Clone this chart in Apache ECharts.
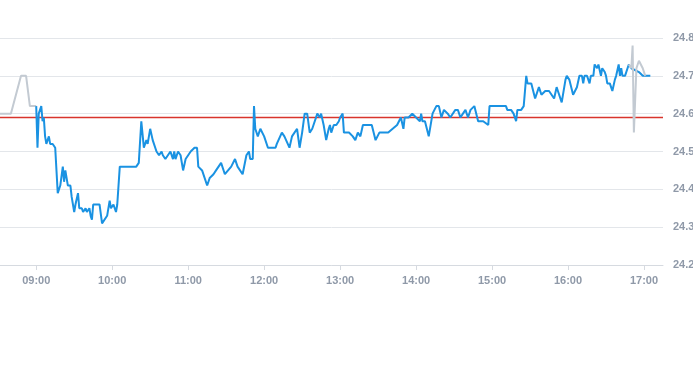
<!DOCTYPE html>
<html>
<head>
<meta charset="utf-8">
<script src="https://cdn.jsdelivr.net/npm/echarts@6/dist/echarts.min.js"></script>
<style>
html,body{margin:0;padding:0;background:#fff;}
#chart{width:693px;height:365px;}
</style>
</head>
<body>
<div id="chart"></div>
<script>
// ---- data ----
const blueTimes = ['09:00','09:01','09:02','09:03','09:04','09:05','09:06','09:07','09:08','09:10','09:11','09:13','09:15',
'09:17','09:19','09:21','09:22','09:23','09:24','09:25','09:27','09:28',
'09:30','09:31','09:33','09:34','09:36','09:37','09:39','09:40','09:42','09:43','09:44','09:45','09:50',
'09:52','09:56','09:58','09:59','10:01','10:03','10:04','10:06',
'10:19','10:21','10:23','10:25','10:27','10:28','10:30','10:32','10:35','10:37','10:39','10:40','10:42','10:44','10:46','10:48','10:49','10:50','10:52','10:54',
'10:56','10:58','11:02','11:05','11:07','11:08','11:11','11:12','11:15','11:16','11:17','11:20','11:22','11:26','11:29','11:34','11:37','11:39','11:43','11:46','11:48','11:49','11:51',
'11:52','11:53','11:54','11:55','11:57','12:00','12:03','12:09','12:10','12:14','12:16','12:20','12:22','12:26','12:28','12:30',
'12:32','12:34','12:36','12:38','12:42','12:43','12:44','12:45','12:47','12:49','12:51','12:52','12:53','12:55','12:57','12:59','13:00','13:02',
'13:03','13:07','13:10','13:12','13:14','13:16','13:18','13:25','13:28','13:31','13:38','13:45','13:48','13:50','13:51','13:54','13:57','14:00','14:03','14:04','14:05','14:07',
'14:10','14:13','14:16','14:18','14:20','14:22','14:25','14:27','14:31','14:33','14:35','14:37','14:39','14:41','14:43','14:46','14:49','14:53','14:57','14:58',
'15:11','15:12','15:13','15:15','15:17','15:19','15:20','15:23','15:25',
'15:27','15:28','15:31','15:34','15:37','15:38','15:39','15:42','15:43','15:45','15:47','15:49','15:51','15:52','15:55','15:58','15:59','16:01','16:04','16:07','16:09','16:11','16:12','16:13','16:15','16:17','16:18','16:20',
'16:21','16:23','16:24','16:26','16:27','16:29','16:30','16:31','16:33','16:34','16:35','16:37','16:38','16:39','16:40','16:41','16:42','16:43','16:44','16:45','16:47','16:48','16:50','16:56','16:59','17:01','17:05'];
const blueValues = [24.62,24.51,24.60,24.61,24.62,24.58,24.59,24.54,24.52,24.54,24.52,24.52,24.51,
24.39,24.41,24.46,24.42,24.45,24.45,24.41,24.41,24.38,
24.34,24.36,24.39,24.35,24.35,24.34,24.35,24.34,24.35,24.33,24.32,24.36,24.36,
24.31,24.33,24.37,24.35,24.36,24.34,24.36,24.46,
24.46,24.47,24.58,24.51,24.53,24.52,24.56,24.53,24.50,24.49,24.50,24.49,24.48,24.49,24.50,24.48,24.50,24.48,24.50,24.49,
24.45,24.48,24.50,24.51,24.51,24.46,24.45,24.45,24.41,24.41,24.43,24.44,24.45,24.47,24.44,24.46,24.48,24.46,24.44,24.49,24.50,24.48,24.48,
24.62,24.56,24.56,24.54,24.56,24.54,24.51,24.51,24.52,24.55,24.54,24.51,24.54,24.56,24.51,24.55,
24.60,24.60,24.55,24.56,24.60,24.60,24.59,24.60,24.57,24.53,24.56,24.57,24.55,24.57,24.57,24.58,24.59,24.60,
24.55,24.55,24.54,24.53,24.55,24.54,24.57,24.57,24.53,24.55,24.55,24.57,24.59,24.56,24.59,24.59,24.60,24.59,24.58,24.60,24.58,24.58,
24.54,24.60,24.62,24.62,24.59,24.61,24.60,24.59,24.61,24.61,24.59,24.60,24.61,24.59,24.61,24.62,24.58,24.58,24.57,24.62,
24.62,24.61,24.61,24.61,24.60,24.58,24.61,24.61,24.62,
24.70,24.68,24.68,24.64,24.67,24.67,24.65,24.66,24.66,24.66,24.65,24.64,24.67,24.66,24.63,24.69,24.70,24.69,24.65,24.67,24.70,24.70,24.68,24.70,24.70,24.68,24.70,24.70,
24.73,24.72,24.73,24.70,24.72,24.71,24.70,24.68,24.68,24.67,24.66,24.69,24.70,24.70,24.73,24.70,24.72,24.70,24.70,24.70,24.72,24.73,24.72,24.71,24.70,24.70,24.70];

const preTimes = ['08:30','08:40','08:48','08:52','08:55','09:00'];
const preValues = [24.60,24.60,24.70,24.70,24.62,24.62];

const postTimes = ['16:48','16:50','16:51','16:52','16:54','16:56','16:57','16:59','17:01'];
const postValues = [24.73,24.72,24.78,24.55,24.72,24.74,24.74,24.72,24.70];

const referencePrice = 24.59;
const xTickLabels = ['09:00','10:00','11:00','12:00','13:00','14:00','15:00','16:00','17:00'];
const yTickLabels = ['24.2','24.3','24.4','24.5','24.6','24.7','24.8'];
const axisStart = '08:31:24';
const axisEnd = '17:15';

// ---- helpers ----
function toMin(t){ const p=t.split(':').map(Number); return p[0]*60+p[1]+(p[2]||0)/60; }
function fmt(m){ const h=Math.floor(m/60), mm=Math.round(m-h*60); return String(h).padStart(2,'0')+':'+String(mm).padStart(2,'0'); }
function pairs(ts, vs){ const n=Math.min(ts.length, vs.length); const out=[]; for(let i=0;i<n;i++) out.push([toMin(ts[i]), vs[i]]); return out; }

const labelColor = '#8f99a8';
const xMin = toMin(axisStart), xMax = toMin(axisEnd);
const chart = echarts.init(document.getElementById('chart'), null, {renderer:'canvas'});
const yMin = parseFloat(yTickLabels[0]), yMax = parseFloat(yTickLabels[yTickLabels.length-1]);
chart.setOption({
  animation:false,
  backgroundColor:'#ffffff',
  grid:{left:0, right:30, top:38, bottom:100, containLabel:false, outerBoundsMode:'none'},
  xAxis:{
    type:'value',
    min:xMin, max:xMax,
    axisLine:{show:true, lineStyle:{color:'#d6dae0', width:1}},
    axisTick:{show:true, length:5, lineStyle:{color:'#d6dae0'}, customValues:xTickLabels.map(toMin)},
    axisLabel:{color:labelColor, fontSize:11, fontWeight:'bold', fontFamily:'Liberation Sans, Arial, sans-serif', margin:10,
      customValues:xTickLabels.map(toMin), formatter:v=>fmt(v)},
    splitLine:{show:false}
  },
  yAxis:{
    type:'value', position:'right',
    min:yMin, max:yMax, interval:0.1,
    axisLine:{show:false}, axisTick:{show:false},
    axisLabel:{color:labelColor, fontSize:11, fontWeight:'bold', fontFamily:'Liberation Sans, Arial, sans-serif', margin:10,
      formatter:v=>v.toFixed(1)},
    splitLine:{show:true, lineStyle:{color:'#e3e6ea', width:1}}
  },
  series:[
    {type:'line', name:'ref', data:[[xMin, referencePrice],[xMax, referencePrice]], showSymbol:false, symbol:'none',
     lineStyle:{color:'#d8342c', width:1.5}, itemStyle:{color:'#d8342c'}, z:1, silent:true},
    {type:'line', name:'pre', data:pairs(preTimes, preValues), showSymbol:false, symbol:'none',
     lineStyle:{color:'#c3cad2', width:2}, z:2},
    {type:'line', name:'price', data:pairs(blueTimes, blueValues), showSymbol:false, symbol:'none',
     lineStyle:{color:'#1a92e2', width:2}, z:3},
    {type:'line', name:'post', data:pairs(postTimes, postValues), showSymbol:false, symbol:'none',
     lineStyle:{color:'#c3cad2', width:2}, z:4}
  ]
});
</script>
</body>
</html>
